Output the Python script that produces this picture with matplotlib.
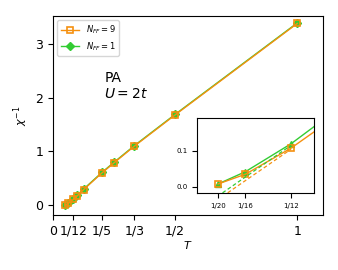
import numpy as np
import matplotlib.pyplot as plt

T = [1/20, 1/16, 1/12, 1/10, 1/8, 1/5, 1/4, 1/3, 1/2, 1]
chi_inv_nff9 = [0.008, 0.035, 0.107, 0.178, 0.29, 0.60, 0.79, 1.10, 1.68, 3.38]
chi_inv_nff1 = [0.008, 0.042, 0.119, 0.194, 0.30, 0.61, 0.80, 1.11, 1.69, 3.39]
# linear extrapolations shown dashed in the inset (slope, intercept)
fit_nff9 = [4.16, -0.2426]
fit_nff1 = [4.19, -0.2345]

xticks = [0, 1/12, 1/5, 1/3, 1/2, 1]
xticklabels = ["0", "1/12", "1/5", "1/3", "1/2", "1"]
inset_xticks = [1/20, 1/16, 1/12]
inset_xticklabels = ["1/20", "1/16", "1/12"]

orange = "#f5900f"
green = "#33cc33"

fig = plt.figure(figsize=(3.38, 2.7), dpi=100)
ax = fig.add_axes([0.157, 0.204, 0.799, 0.737])
ax.plot(T, chi_inv_nff1, color=green, marker="D", ms=4, lw=1, label="$N_{FF}=1$")
ax.plot(T, chi_inv_nff9, color=orange, marker="s", ms=5, mfc="none", mew=1.2, lw=1, label="$N_{FF}=9$")
handles, labels = ax.get_legend_handles_labels()
ax.legend(handles[::-1], labels[::-1], loc="upper left", fontsize=6, handlelength=2.2)
ax.set_xlim(0, 1.106)
ax.set_ylim(-0.18, 3.52)
ax.set_xticks(xticks)
ax.set_xticklabels(xticklabels)
ax.set_yticks([0, 1, 2, 3])
ax.tick_params(labelsize=9)
ax.set_xlabel("$T$", fontsize=8, labelpad=1)
ax.set_ylabel(r"$\chi^{-1}$", fontsize=8)
ax.text(0.19, 0.67, "PA", transform=ax.transAxes, fontsize=10)
ax.text(0.19, 0.59, "$U=2t$", transform=ax.transAxes, fontsize=10)

ins = fig.add_axes([0.583, 0.285, 0.346, 0.278])
ins.plot(T, chi_inv_nff1, color=green, marker="^", ms=5, lw=1)
ins.plot(T, chi_inv_nff9, color=orange, marker="s", ms=5, mfc="none", mew=1.2, lw=1)
tt = np.array([0.045, 1/12])
ins.plot(tt, fit_nff1[0] * tt + fit_nff1[1], color=green, ls=(0, (3, 2)), lw=0.9)
ins.plot(tt, fit_nff9[0] * tt + fit_nff9[1], color=orange, ls=(0, (3, 2)), lw=0.9)
ins.set_xlim(0.0404, 0.0938)
ins.set_ylim(-0.017, 0.19)
ins.set_xticks(inset_xticks)
ins.set_xticklabels(inset_xticklabels)
ins.set_yticks([0.0, 0.1])
ins.tick_params(labelsize=5)

fig.savefig("out.png", dpi=100)
